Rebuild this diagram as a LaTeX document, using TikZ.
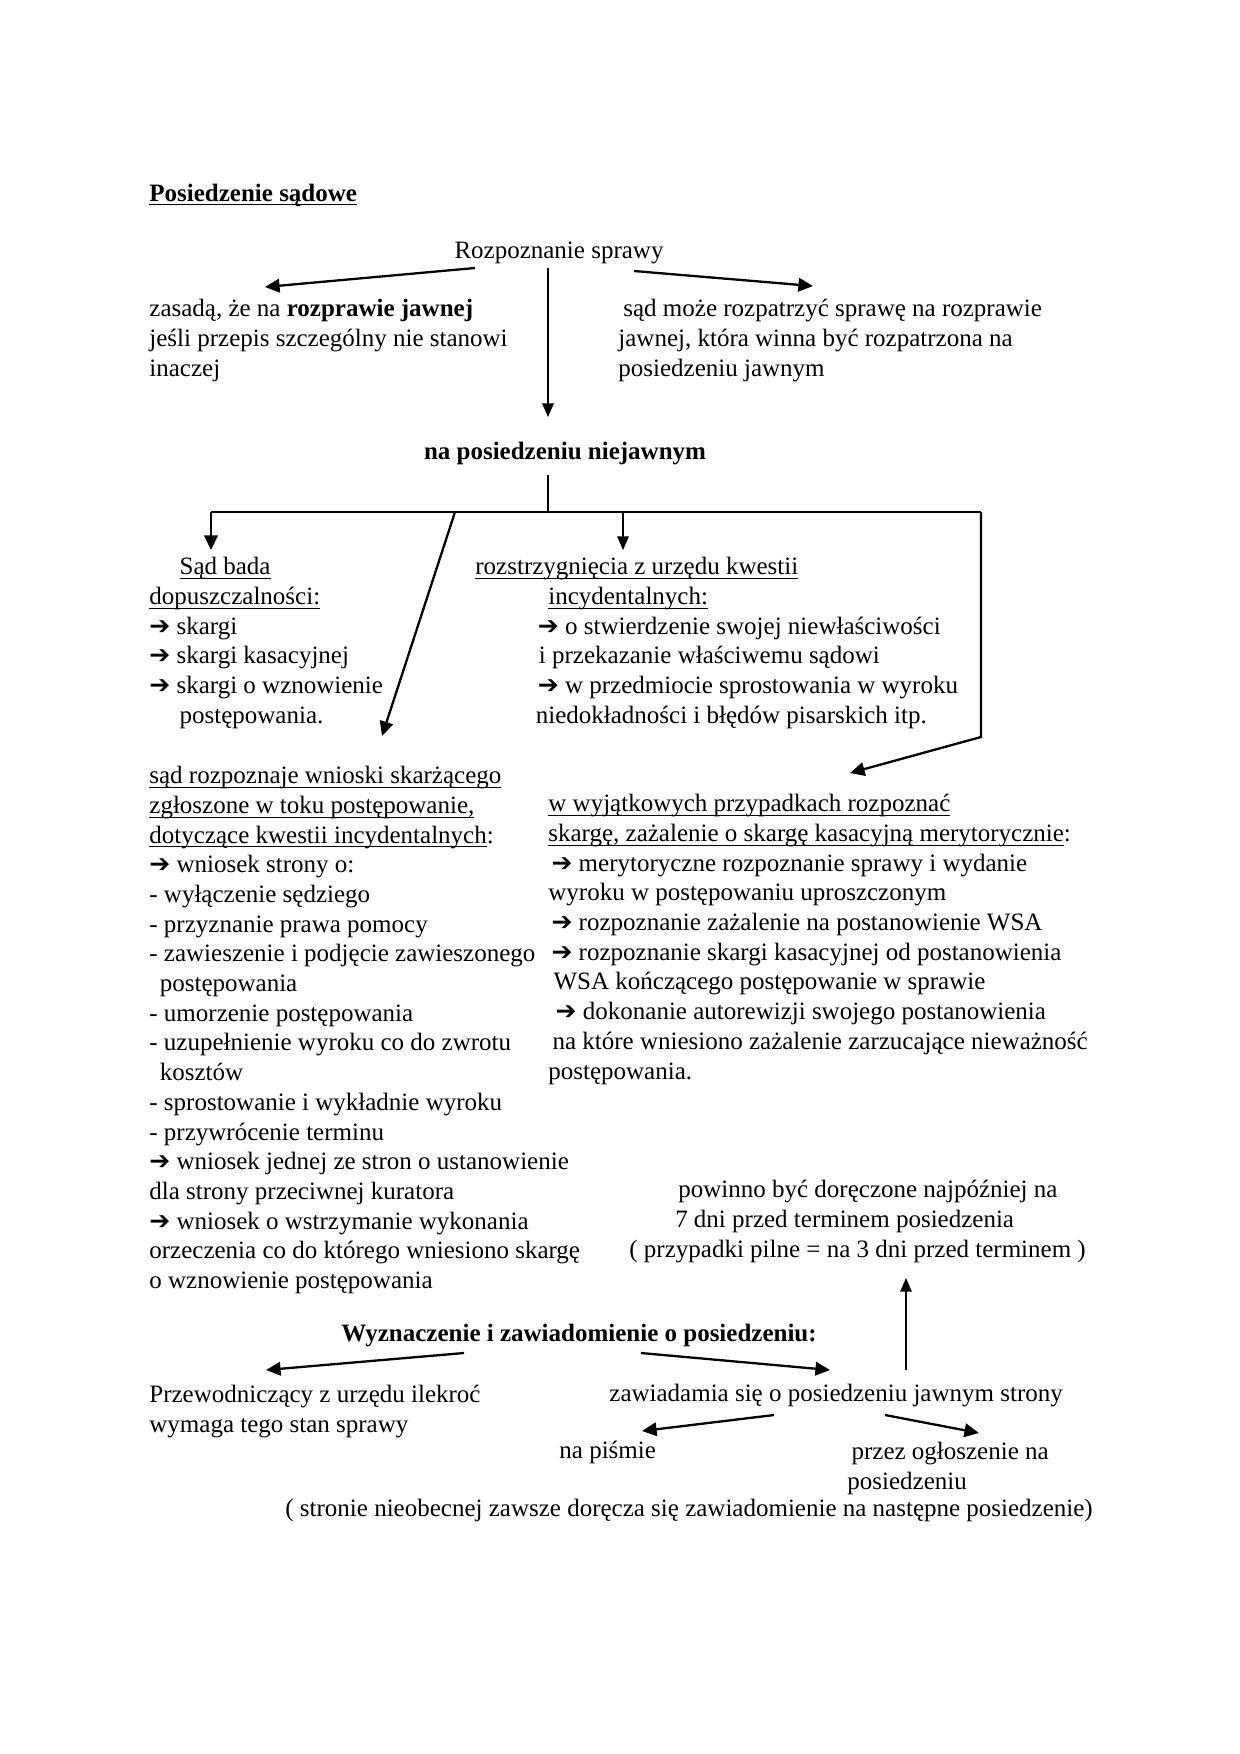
\documentclass[tikz,border=0pt]{standalone}
\usepackage{fontspec}
\setmainfont{Liberation Serif}
\newfontfamily\arrowfont{DejaVu Sans}
\usetikzlibrary{arrows.meta,positioning,calc}

\newcommand{\strz}{{\arrowfont ➔}}
\newsavebox{\podkrbox}
\newcommand{\podkr}[1]{\leavevmode\sbox{\podkrbox}{#1}%
  \rlap{\rule[-2pt]{\wd\podkrbox}{0.5pt}}\usebox{\podkrbox}}

\begin{document}
\begin{tikzpicture}[
    x=0.48pt, y=-0.48pt,
    txt/.style={
      anchor=north west,
      inner sep=0pt,
      align=left,
      font=\fontsize{12}{14.25}\selectfont
    },
    lbl/.style={
      anchor=base,
      inner sep=0pt,
      font=\fontsize{12}{14.25}\selectfont
    },
    arrow/.style={
      -{Triangle[length=7pt,width=6.5pt]},
      line width=1.1pt
    },
    thinarrow/.style={
      -{Triangle[length=6.5pt,width=5.5pt]},
      line width=0.6pt
    },
    branch/.style={line width=1.1pt}
  ]
  \useasboundingbox (0,0) rectangle (1240,1754);

  % Rozpoznanie sprawy
  \node[lbl,anchor=base west] (title) at (149,201) {\textbf{\podkr{Posiedzenie sądowe}}};
  \node[lbl] (rozp) at (559,258) {Rozpoznanie sprawy};
  \node[txt] (jawna) at (149,299)
    {zasadą, że na \textbf{rozprawie jawnej}\\
     jeśli przepis szczególny nie stanowi\\
     inaczej};
  \node[txt] (mozna) at (618,299)
    {\hspace*{2.4pt}sąd może rozpatrzyć sprawę na rozprawie\\
     jawnej, która winna być rozpatrzona na\\
     posiedzeniu jawnym};
  \node[lbl] (niejawne) at (565,459) {\textbf{na posiedzeniu niejawnym}};

  % Posiedzenie niejawne
  \node[txt] (bada) at (149,557)
    {\hspace*{14.5pt}\podkr{Sąd bada}\\
     \podkr{dopuszczalności:}\\
     \strz{} skargi\\
     \strz{} skargi kasacyjnej\\
     \strz{} skargi o wznowienie\\
     \hspace*{14.5pt}postępowania.};
  \node[txt] (incyd) at (475,557)
    {\podkr{rozstrzygnięcia z urzędu kwestii}\\
     \hspace*{35pt}\podkr{incydentalnych:}\\
     \hspace*{30pt}\strz{} o stwierdzenie swojej niewłaściwości\\
     \hspace*{30.5pt}i przekazanie właściwemu sądowi\\
     \hspace*{30pt}\strz{} w przedmiocie sprostowania w wyroku\\
     \hspace*{29pt}niedokładności i błędów pisarskich itp.};
  \node[txt] (wnioski) at (149,766)
    {\podkr{sąd rozpoznaje wnioski skarżącego}\\
     \podkr{zgłoszone w toku postępowanie,}\\
     \podkr{dotyczące kwestii incydentalnych}:\\
     \strz{} wniosek strony o:\\
     - wyłączenie sędziego\\
     - przyznanie prawa pomocy\\
     - zawieszenie i podjęcie zawieszonego\\
     \hspace*{5pt}postępowania\\
     - umorzenie postępowania\\
     - uzupełnienie wyroku co do zwrotu\\
     \hspace*{5pt}kosztów\\
     - sprostowanie i wykładnie wyroku\\
     - przywrócenie terminu\\
     \strz{} wniosek jednej ze stron o ustanowienie\\
     dla strony przeciwnej kuratora\\
     \strz{} wniosek o wstrzymanie wykonania\\
     orzeczenia co do którego wniesiono skargę\\
     o wznowienie postępowania};
  \node[txt] (wyjatki) at (548,794)
    {\podkr{w wyjątkowych przypadkach rozpoznać}\\
     \podkr{skargę, zażalenie o skargę kasacyjną merytorycznie}:\\
     \hspace*{1.5pt}\strz{} merytoryczne rozpoznanie sprawy i wydanie\\
     wyroku w postępowaniu uproszczonym\\
     \hspace*{1.5pt}\strz{} rozpoznanie zażalenie na postanowienie WSA\\
     \hspace*{1.5pt}\strz{} rozpoznanie skargi kasacyjnej od postanowienia\\
     \hspace*{2.5pt}WSA kończącego postępowanie w sprawie\\
     \hspace*{3.5pt}\strz{} dokonanie autorewizji swojego postanowienia\\
     \hspace*{2pt}na które wniesiono zażalenie zarzucające nieważność\\
     postępowania.};

  % Wyznaczenie i zawiadomienie
  \node[txt] (dorecz) at (629,1180)
    {\hspace*{23.5pt}powinno być doręczone najpóźniej na\\
     \hspace*{22pt}7 dni przed terminem posiedzenia\\
     ( przypadki pilne = na 3 dni przed terminem )};
  \node[lbl] (wyzn) at (579,1341) {\textbf{Wyznaczenie i zawiadomienie o posiedzeniu:}};
  \node[txt] (przew) at (149,1385)
    {Przewodniczący z urzędu ilekroć\\
     wymaga tego stan sprawy};
  \node[lbl,anchor=base west] (zawiad) at (609,1401) {zawiadamia się o posiedzeniu jawnym strony};
  \node[lbl,anchor=base west] (pismo) at (559,1458) {na piśmie};
  \node[txt] (oglosz) at (847,1442)
    {\hspace*{2pt}przez ogłoszenie na\\
     posiedzeniu};
  \node[lbl,anchor=base west] (nieob) at (285,1516)
    {( stronie nieobecnej zawsze doręcza się zawiadomienie na następne posiedzenie)};

  % Connector ends
  \coordinate (rozpL) at (475,268);
  \coordinate (rozpR) at (634,271);
  \coordinate (rozpD) at (548,268);
  \coordinate (jawnaT) at (265,287);
  \coordinate (moznaT) at (813,286);
  \coordinate (niejT) at (548,417);
  \coordinate (niejB) at (548,475);
  \coordinate (hub) at (548,512);
  \coordinate (hubL) at (211,512);
  \coordinate (hubS) at (455,512);
  \coordinate (hubM) at (623,512);
  \coordinate (hubR) at (981,512);
  \coordinate (badaT) at (211,550);
  \coordinate (incydT) at (623,550);
  \coordinate (wnioskiT) at (382,736);
  \coordinate (kolano) at (981,737);
  \coordinate (wyjatkiT) at (850,773);
  \coordinate (zawiadU) at (906,1370);
  \coordinate (doreczB) at (906,1278);
  \coordinate (wyznL) at (464,1353);
  \coordinate (wyznR) at (641,1353);
  \coordinate (przewT) at (266,1370);
  \coordinate (zawiadT) at (830,1370);
  \coordinate (zawiadL) at (774,1415);
  \coordinate (zawiadR) at (885,1415);
  \coordinate (pismoT) at (642,1431);
  \coordinate (ogloszT) at (979,1433);

  % Arrows
  \draw[arrow] (rozpL) -- (jawnaT);
  \draw[arrow] (rozpR) -- (moznaT);
  \draw[thinarrow] (rozpD) -- (niejT);
  \draw[line width=0.6pt] (niejB) -- (hub);
  \draw[branch] (hubL) -- (hubR);
  \draw[arrow] (hubL) -- (badaT);
  \draw[thinarrow] (hubM) -- (incydT);
  \draw[arrow] (hubS) -- (wnioskiT);
  \draw[arrow] (hubR) -- (kolano) -- (wyjatkiT);
  \draw[thinarrow] (zawiadU) -- (doreczB);
  \draw[arrow] (wyznL) -- (przewT);
  \draw[arrow] (wyznR) -- (zawiadT);
  \draw[arrow] (zawiadL) -- (pismoT);
  \draw[arrow] (zawiadR) -- (ogloszT);

\end{tikzpicture}
\end{document}
